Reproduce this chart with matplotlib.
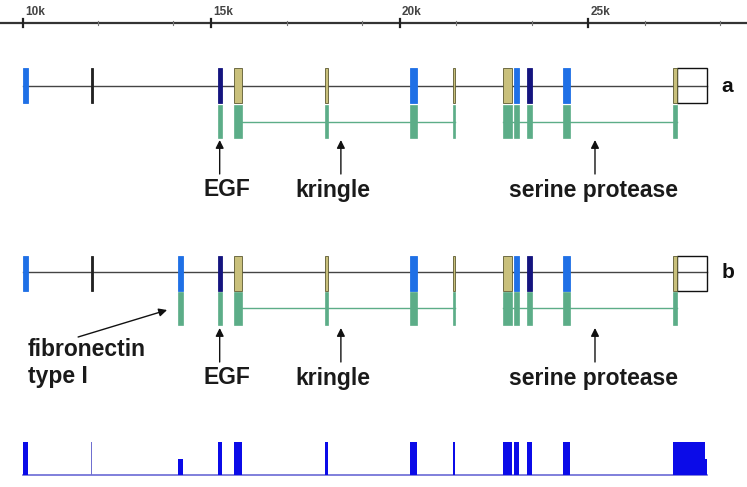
import matplotlib.pyplot as plt
from matplotlib.patches import Rectangle

# exon coordinates (bp) and domain colour class
exon_start = [10000, 11815, 14120, 15180, 15605, 18020, 20270, 21415, 22740, 23030, 23375, 24330, 27250]
exon_end = [10140, 11865, 14250, 15285, 15815, 18100, 20460, 21465, 22980, 23165, 23510, 24520, 27355]
exon_kind = ['blue', 'black', 'blue', 'navy', 'khaki', 'khaki', 'blue', 'khaki', 'khaki', 'blue', 'navy', 'blue', 'khaki']
in_track_a = [1, 1, 0, 1, 1, 1, 1, 1, 1, 1, 1, 1, 1]
in_green = [0, 0, 1, 1, 1, 1, 1, 1, 1, 1, 1, 1, 1]
utr_box = (27355, 28150)
green_introns = [(15815, 21465), (22740, 27355)]

# bottom coverage track
bottom_height = [1, 1, 0.5, 1, 1, 1, 1, 1, 1, 1, 1, 1, 1]
bottom_tail = [(27355, 28100, 1.0), (28100, 28160, 0.5)]

# ruler
major_ticks = [10000, 15000, 20000, 25000]
major_labels = ['10k', '15k', '20k', '25k']
minor_ticks = [12000, 14000, 17000, 19000, 21500, 23500, 26500, 28500]

# domain annotations
domain_labels = ['EGF', 'kringle', 'serine protease']
label_x = [15420, 18230, 25150]
arrow_x = [15225, 18440, 25180]

colors = {'blue': '#1f70e6', 'black': '#222222', 'navy': '#14147f', 'khaki': '#c9c07c'}
green = '#5cad88'
txt = '#1a1a1a'
fs = 16.5

plt.rcParams['font.family'] = ['Liberation Sans', 'DejaVu Sans']

fig = plt.figure(figsize=(7.47, 4.87), dpi=100)
ax = fig.add_axes([0, 0, 1, 1])
ax.set_xlim(9398, 29212)
ax.set_ylim(487, 0)
ax.axis('off')

# ruler
ax.plot([9398, 29212], [23, 23], color='#333333', lw=1.6)
for t, lab in zip(major_ticks, major_labels):
    ax.plot([t, t], [19, 27], color='#222222', lw=1.6)
    ax.text(t + 60, 18, lab, fontsize=8.5, fontweight='bold', color='#444444',
            ha='left', va='bottom')
for t in minor_ticks:
    ax.plot([t, t], [21, 25], color='#777777', lw=0.8)


def draw_track(y_top, y_mid, g_top, g_mid, with_fn, letter):
    ax.plot([exon_start[0], utr_box[1]], [y_mid, y_mid], color='#444444', lw=1, zorder=1)
    for g0, g1 in green_introns:
        ax.plot([g0, g1], [g_mid, g_mid], color=green, lw=1, zorder=1)
    h = 35
    for s, e, k, a, g in zip(exon_start, exon_end, exon_kind, in_track_a, in_green):
        if not (a or with_fn):
            continue
        ec = '#5c5a30' if k == 'khaki' else colors[k]
        ax.add_patch(Rectangle((s, y_top), e - s, h, facecolor=colors[k],
                               edgecolor=ec, lw=0.6, zorder=3))
        if g:
            ax.add_patch(Rectangle((s, g_top), e - s, 33, facecolor=green,
                                   edgecolor=green, lw=0.5, zorder=3))
    ax.add_patch(Rectangle((utr_box[0], y_top), utr_box[1] - utr_box[0], h,
                           facecolor='none', edgecolor='#111111', lw=1, zorder=2))
    ax.text(utr_box[1] + 380, y_mid + 1, letter, fontsize=15, fontweight='bold',
            ha='left', va='center', color='#111111')


draw_track(68, 86, 105, 122, False, 'a')
draw_track(256, 272, 292, 308, True, 'b')

# arrows and labels
for base in (0, 188):
    for lab, lx, axp in zip(domain_labels, label_x, arrow_x):
        ax.annotate('', xy=(axp, 140 + base), xytext=(axp, 174 + base),
                    arrowprops=dict(arrowstyle='-|>', color='#111111', lw=1,
                                    mutation_scale=12, shrinkA=0, shrinkB=0))
        ax.text(lx, 190 + base, lab, fontsize=fs, fontweight='bold',
                ha='center', va='center', color=txt)

ax.annotate('', xy=(13830, 310), xytext=(11470, 337),
            arrowprops=dict(arrowstyle='-|>', color='#111111', lw=1,
                            mutation_scale=12, shrinkA=0, shrinkB=0))
ax.text(10130, 350, 'fibronectin', fontsize=fs, fontweight='bold', ha='left',
        va='center', color=txt)
ax.text(10130, 377, 'type I', fontsize=fs, fontweight='bold', ha='left',
        va='center', color=txt)

# bottom coverage track
base_y = 475
full = 33
ax.plot([exon_start[0], 28160], [base_y, base_y], color='#6a6ad6', lw=1.2, zorder=1)
for s, e, k, hb in zip(exon_start, exon_end, exon_kind, bottom_height):
    c = '#7070d0' if k == 'black' else '#0b0be8'
    if k == 'black':
        e = s + 30
    ax.add_patch(Rectangle((s, base_y), e - s, -full * hb, facecolor=c,
                           edgecolor='none', zorder=2))
for s, e, hb in bottom_tail:
    ax.add_patch(Rectangle((s, base_y), e - s, -full * hb, facecolor='#0b0be8',
                           edgecolor='none', zorder=2))

fig.savefig('out.png', dpi=100)
